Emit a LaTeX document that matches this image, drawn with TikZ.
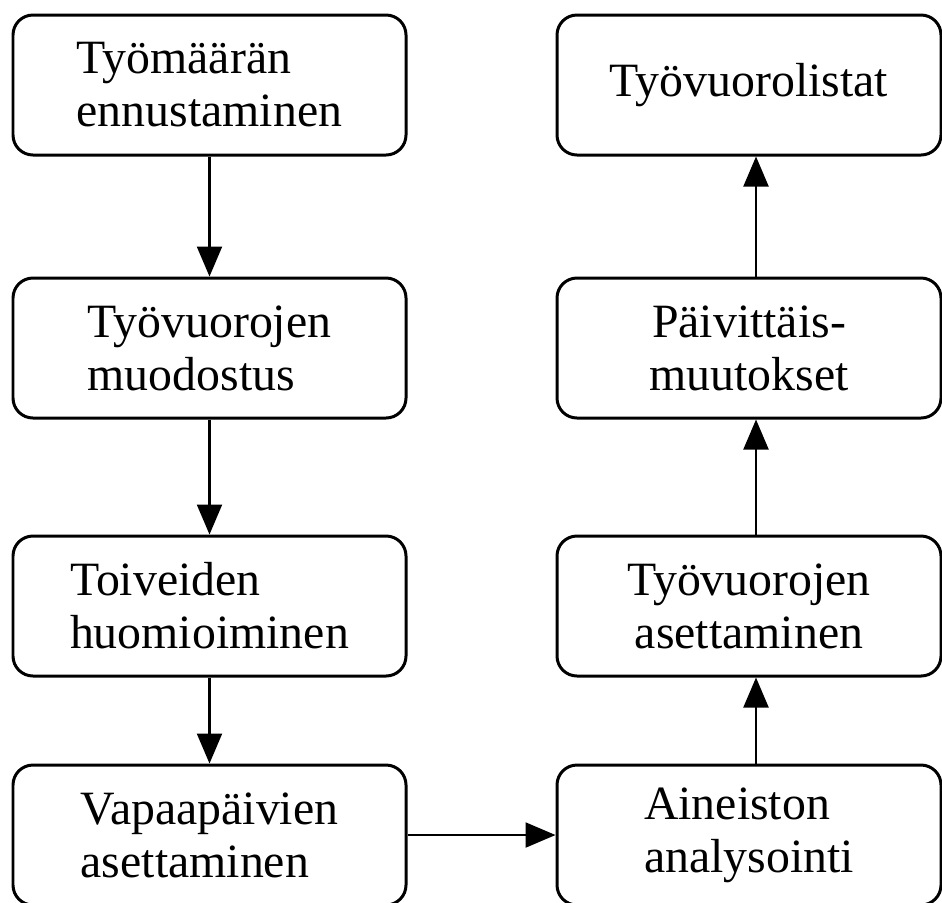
\documentclass[tikz,border=0pt]{standalone}
\usepackage{fontspec}
\setmainfont{Liberation Serif}
\usetikzlibrary{arrows.meta}

\begin{document}
\begin{tikzpicture}[
    >={Triangle[width=0.25cm,length=0.3cm]},
    % Styles
    stage/.style={draw, line width=0.85pt, rounded corners=0.2cm,
        minimum width=3.93cm, minimum height=1.4cm, inner sep=0pt,
        font=\fontsize{13.6pt}{15.1pt}\selectfont, align=#1},
    stage/.default=center,
    flow/.style={->, line width=0.6pt}
]
\useasboundingbox (0,0) rectangle (9.42,9.02);

% --- Left column ---
\node[stage=left] (ennuste) at (2.095, 8.17) {Työmäärän\\ennustaminen};
\node[stage=left] (muodostus) at (2.095, 5.54) {Työvuorojen\\muodostus};
\node[stage=left] (toiveet) at (2.095, 2.96) {Toiveiden\\huomioiminen};
\node[stage=left] (vapaat) at (2.095, 0.67) {Vapaapäivien\\asettaminen};

% --- Right column ---
\node[stage, minimum width=3.84cm] (listat) at (7.49, 8.17) {Työvuorolistat};
\node[stage, minimum width=3.84cm] (muutokset) at (7.49, 5.54) {Päivittäis-\\muutokset};
\node[stage, minimum width=3.84cm] (asetus) at (7.49, 2.96) {Työvuorojen\\asettaminen};
\node[stage=left, minimum width=3.84cm] (analyysi) at (7.49, 0.67) {Aineiston\\analysointi};

% --- Arrows down the left column ---
\draw[flow] (ennuste) -- (muodostus);
\draw[flow] (muodostus) -- (toiveet);
\draw[flow] (toiveet) -- (vapaat);

% --- Across and up the right column ---
\draw[flow] (vapaat) -- (analyysi);
\draw[flow] ([xshift=0.07cm]analyysi.north) -- ([xshift=0.07cm]asetus.south);
\draw[flow] ([xshift=0.07cm]asetus.north) -- ([xshift=0.07cm]muutokset.south);
\draw[flow] ([xshift=0.07cm]muutokset.north) -- ([xshift=0.07cm]listat.south);

\end{tikzpicture}
\end{document}
